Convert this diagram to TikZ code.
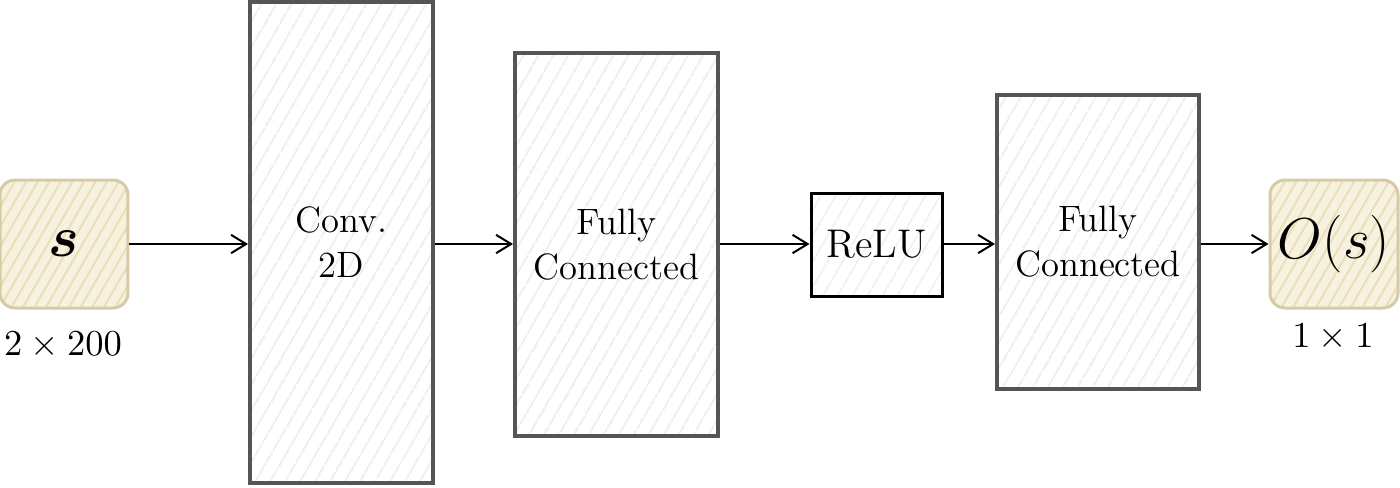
\documentclass[tikz,border=0pt]{standalone}
\usepackage{amsmath}
\usepackage{bm}
\usetikzlibrary{arrows.meta,patterns.meta}
\definecolor{boxgray}{HTML}{555555}
\definecolor{hatchgray}{HTML}{EBEBEB}
\definecolor{beigeline}{HTML}{D6CBA6}
\definecolor{beigefill}{HTML}{F7F2DF}
\definecolor{beigehatch}{HTML}{EADFB8}
\tikzset{
  layer/.style={draw=boxgray, line width=1.2pt,
    preaction={fill=white},
    preaction={pattern={Lines[angle=60,distance=4pt,line width=0.5pt]}, pattern color=hatchgray},
    align=center, font=\fontsize{11}{13.5}\selectfont, inner sep=0pt},
  relubox/.style={draw=black, line width=0.9pt,
    preaction={fill=white},
    preaction={pattern={Lines[angle=60,distance=4pt,line width=0.5pt]}, pattern color=hatchgray},
    font=\fontsize{12}{14}\selectfont, inner sep=0pt},
  iobox/.style={draw=beigeline, line width=0.9pt, rounded corners=4.5pt,
    preaction={fill=beigefill},
    preaction={pattern={Lines[angle=60,distance=3pt,line width=0.6pt]}, pattern color=beigehatch},
    minimum width=38.4pt, minimum height=38.4pt, inner sep=0pt, font=\fontsize{16}{18}\selectfont},
  dimlabel/.style={font=\fontsize{11}{13}\selectfont, inner sep=0pt},
  conn/.style={draw=black, line width=0.6pt, -{Straight Barb[length=4.5pt,width=5.5pt,line width=0.6pt]}}
}
\begin{document}
\begin{tikzpicture}[x=0.3pt,y=-0.3pt]
\useasboundingbox (0,0) rectangle (1400,487);
\node[iobox] (s) at (64,244) {$\bm{s}$};
\node[dimlabel] (sdim) at (63,345) {$2\times200$};
\node[layer, minimum width=54.9pt, minimum height=144.3pt] (conv) at (341.5,242.5) {Conv.\\2D};
\node[layer, minimum width=60.9pt, minimum height=114.9pt] (fc1) at (616.5,244.5) {Fully\\Connected};
\node[relubox, minimum width=39.3pt, minimum height=30.9pt] (relu) at (876.5,244.5) {ReLU};
\node[layer, minimum width=60.6pt, minimum height=88.2pt] (fc2) at (1098,242) {Fully\\Connected};
\node[iobox] (o) at (1334,244) {$O(s)$};
\node[dimlabel] (odim) at (1333,337) {$1\times1$};
\draw[conn] (s.east) -- (s.east -| conv.west);
\draw[conn] (conv.east |- s.east) -- (s.east -| fc1.west);
\draw[conn] (fc1.east |- s.east) -- (s.east -| relu.west);
\draw[conn] (relu.east |- s.east) -- (s.east -| fc2.west);
\draw[conn] (fc2.east |- s.east) -- (o.west);
\end{tikzpicture}
\end{document}
